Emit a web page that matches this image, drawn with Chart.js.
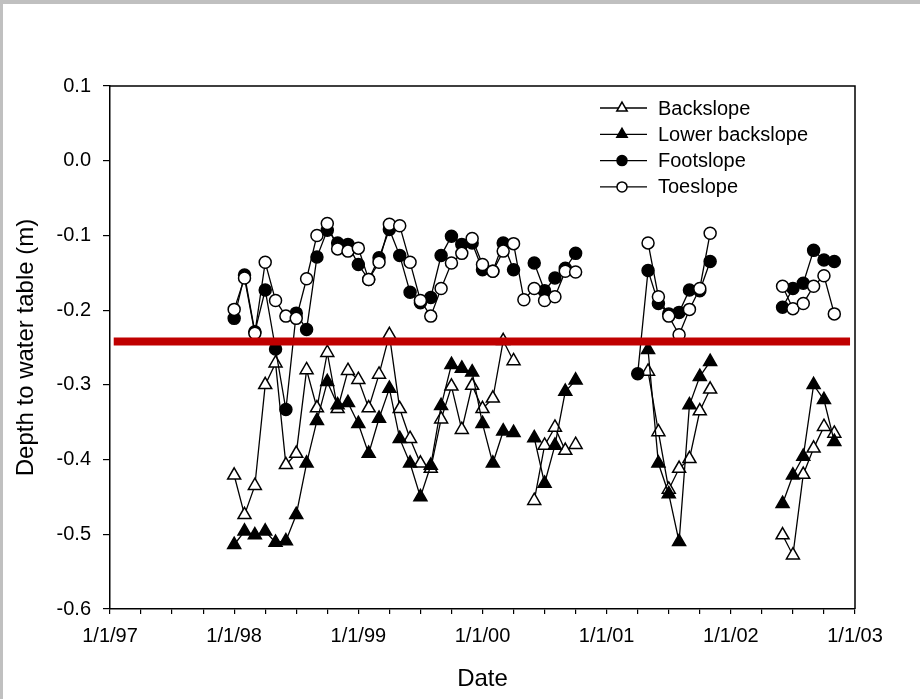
<!DOCTYPE html>
<html>
<head>
<meta charset="utf-8">
<script src="https://cdn.jsdelivr.net/npm/chart.js@4.4.0/dist/chart.umd.min.js"></script>
<style>
  html, body { margin: 0; padding: 0; background: #fff; }
  #wrap { width: 920px; height: 699px; }
</style>
</head>
<body>
<div id="wrap"><canvas id="chart" width="920" height="699"></canvas></div>
<script>
// sampling months; the 2001-01 and 2002-01 rows have no data so the lines break there
const sampleMonths = [
  '1998-01','1998-02','1998-03','1998-04','1998-05','1998-06','1998-07','1998-08','1998-09','1998-10','1998-11','1998-12',
  '1999-01','1999-02','1999-03','1999-04','1999-05','1999-06','1999-07','1999-08','1999-09','1999-10','1999-11','1999-12',
  '2000-01','2000-02','2000-03','2000-04','2000-05','2000-06','2000-07','2000-08','2000-09','2000-10',
  '2001-01',
  '2001-04','2001-05','2001-06','2001-07','2001-08','2001-09','2001-10','2001-11',
  '2002-01',
  '2002-06','2002-07','2002-08','2002-09','2002-10','2002-11'
]

const backslope = [
  -0.421, -0.474, -0.435, -0.300, -0.271, -0.407, -0.392, -0.280, -0.331, -0.257, -0.332, -0.281,
  -0.293, -0.331, -0.286, -0.233, -0.332, -0.372, -0.405, -0.412, -0.346, -0.302, -0.360, -0.301,
  -0.332, -0.318, -0.241, -0.268, null, -0.455, -0.381, -0.357, -0.388, -0.380,
  null,
  null, -0.282, -0.363, -0.440, -0.412, -0.399, -0.335, -0.306,
  null,
  -0.501, -0.528, -0.420, -0.385, -0.356, -0.365
]
const lowerBackslope = [
  -0.514, -0.496, -0.501, -0.496, -0.511, -0.509, -0.474, -0.405, -0.348, -0.296, -0.327, -0.324,
  -0.352, -0.392, -0.345, -0.305, -0.372, -0.405, -0.450, -0.408, -0.328, -0.273, -0.278, -0.283,
  -0.352, -0.405, -0.362, -0.364, null, -0.371, -0.432, -0.381, -0.309, -0.294,
  null,
  null, -0.253, -0.405, -0.446, -0.510, -0.327, -0.289, -0.269,
  null,
  -0.459, -0.421, -0.396, -0.300, -0.320, -0.376
]
const footslope = [
  -0.211, -0.153, -0.229, -0.173, -0.252, -0.333, -0.204, -0.226, -0.129, -0.093, -0.110, -0.112,
  -0.139, -0.159, -0.130, -0.092, -0.127, -0.176, -0.190, -0.183, -0.127, -0.101, -0.112, -0.110,
  -0.146, -0.148, -0.110, -0.146, null, -0.137, -0.174, -0.157, -0.144, -0.124,
  null,
  -0.285, -0.147, -0.191, -0.205, -0.203, -0.173, -0.174, -0.135,
  null,
  -0.196, -0.171, -0.164, -0.120, -0.133, -0.135
]
const toeslope = [
  -0.199, -0.157, -0.231, -0.136, -0.187, -0.208, -0.211, -0.158, -0.100, -0.084, -0.118, -0.121,
  -0.117, -0.159, -0.136, -0.085, -0.087, -0.136, -0.187, -0.208, -0.171, -0.137, -0.124, -0.104,
  -0.139, -0.148, -0.121, -0.111, -0.186, -0.171, -0.187, -0.182, -0.148, -0.149,
  null,
  null, -0.110, -0.182, -0.208, -0.233, -0.199, -0.171, -0.097,
  null,
  -0.168, -0.198, -0.191, -0.168, -0.154, -0.205
]

// red reference line
const thresholdDepth = -0.242
const thresholdSpan = [1997.03, 2002.96]

const yearTicks = [1997, 1998, 1999, 2000, 2001, 2002, 2003]
const yearLabels = ['1/1/97', '1/1/98', '1/1/99', '1/1/00', '1/1/01', '1/1/02', '1/1/03']
const depthTicks = [0.1, 0.0, -0.1, -0.2, -0.3, -0.4, -0.5, -0.6]

const FONT = '"Liberation Sans", Arial, sans-serif'

function monthToYear(m) {
    const [y, mo] = m.split('-').map(Number)
    return y + (mo - 1) / 12
}
function toPoints(values) {
    return sampleMonths.map((m, i) => ({ x: monthToYear(m), y: values[i] }))
}

// quarter ticks on the date axis, labels only on whole years
const quarterTicks = []
yearTicks.forEach((y, i) => {
    quarterTicks.push(y)
    if (i < yearTicks.length - 1) quarterTicks.push(y + 0.25, y + 0.5, y + 0.75)
})

const series = [
    { name: 'Backslope', values: backslope, style: 'triangle', fill: '#fff' },
    { name: 'Lower backslope', values: lowerBackslope, style: 'triangle', fill: '#000' },
    { name: 'Footslope', values: footslope, style: 'circle', fill: '#000' },
    { name: 'Toeslope', values: toeslope, style: 'circle', fill: '#fff' }
]

function drawMarker(ctx, style, x, y, r, fill) {
    ctx.beginPath()
    if (style === 'circle') {
        ctx.arc(x, y, r, 0, Math.PI * 2)
    } else {
        for (let k = 0; k < 3; k++) {
            const a = k * 2 * Math.PI / 3
            const px = x + Math.sin(a) * r, py = y - Math.cos(a) * r
            k ? ctx.lineTo(px, py) : ctx.moveTo(px, py)
        }
        ctx.closePath()
    }
    ctx.fillStyle = fill
    ctx.fill()
    ctx.stroke()
}

const frame = {
    id: 'frame',
    beforeDraw(chart) {
        const { ctx, width, height } = chart
        ctx.save()
        ctx.fillStyle = '#fff'
        ctx.fillRect(0, 0, width, height)
        ctx.fillStyle = '#c0c0c0'
        ctx.fillRect(0, 0, width, 4)
        ctx.fillRect(0, 0, 3, height)
        ctx.restore()
    },
    afterDraw(chart) {
        const { ctx, chartArea: a } = chart
        ctx.save()
        ctx.strokeStyle = '#000'
        ctx.lineWidth = 1.5
        ctx.beginPath()
        ctx.moveTo(a.left, a.top)
        ctx.lineTo(a.right, a.top)
        ctx.lineTo(a.right, a.bottom)
        ctx.stroke()
        // legend
        ctx.font = '20px ' + FONT
        ctx.textBaseline = 'middle'
        ctx.textAlign = 'left'
        series.forEach((s, i) => {
            const y = 108 + i * 26.3
            ctx.strokeStyle = '#000'
            ctx.lineWidth = 1.3
            ctx.beginPath()
            ctx.moveTo(600, y)
            ctx.lineTo(647, y)
            ctx.stroke()
            ctx.lineWidth = 1.5
            drawMarker(ctx, s.style, 622, y, s.style === 'circle' ? 5 : 6, s.fill)
            ctx.fillStyle = '#000'
            ctx.fillText(s.name, 658, y + 1)
        })
        ctx.restore()
    }
}

const datasets = series.map((s, i) => ({
    label: s.name,
    data: toPoints(s.values),
    borderColor: '#000',
    borderWidth: 1.3,
    pointStyle: s.style,
    pointRadius: s.style === 'circle' ? 6 : 7.5,
    pointBackgroundColor: s.fill,
    pointBorderColor: '#000',
    pointBorderWidth: 1.5,
    spanGaps: false,
    tension: 0,
    order: 4 - i
}))
datasets.push({
    label: 'threshold',
    data: thresholdSpan.map(x => ({ x, y: thresholdDepth })),
    borderColor: '#c00000',
    borderWidth: 8,
    borderCapStyle: 'butt',
    pointRadius: 0,
    order: 0
})

new Chart(document.getElementById('chart'), {
    type: 'line',
    data: { datasets },
    options: {
        responsive: false,
        animation: false,
        devicePixelRatio: 1,
        layout: { padding: { top: 86, right: 65, left: 0, bottom: 0 } },
        plugins: { legend: { display: false }, tooltip: { enabled: false } },
        scales: {
            x: {
                type: 'linear',
                min: 1997,
                max: 2003,
                afterBuildTicks: scale => { scale.ticks = quarterTicks.map(v => ({ value: v })) },
                afterFit: scale => { scale.height = 90 },
                grid: { drawOnChartArea: false, tickLength: 5, color: '#000', lineWidth: 1.2 },
                border: { color: '#000', width: 1.5 },
                ticks: {
                    autoSkip: false,
                    maxRotation: 0,
                    padding: 10,
                    color: '#000',
                    font: { family: FONT, size: 20 },
                    callback: v => {
                        const i = yearTicks.indexOf(v)
                        return i >= 0 ? yearLabels[i] : ''
                    }
                },
                title: {
                    display: true,
                    text: 'Date',
                    color: '#000',
                    font: { family: FONT, size: 24 },
                    padding: { top: 0, bottom: 5 }
                }
            },
            y: {
                min: -0.6,
                max: 0.1,
                afterBuildTicks: scale => { scale.ticks = depthTicks.map(v => ({ value: v })) },
                afterFit: scale => { scale.width = 110 },
                grid: { drawOnChartArea: false, tickLength: 7, color: '#000', lineWidth: 1.2 },
                border: { color: '#000', width: 1.5 },
                ticks: {
                    padding: 12,
                    color: '#000',
                    font: { family: FONT, size: 20 },
                    callback: v => v.toFixed(1)
                },
                title: {
                    display: true,
                    text: 'Depth to water table (m)',
                    color: '#000',
                    font: { family: FONT, size: 24 },
                    padding: { top: 12, bottom: 0 }
                }
            }
        }
    },
    plugins: [frame]
})
</script>
</body>
</html>
